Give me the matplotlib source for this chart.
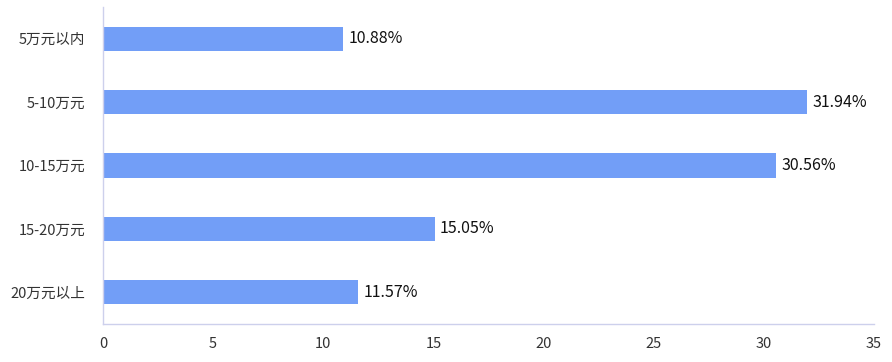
import matplotlib
matplotlib.use("Agg")
import matplotlib.pyplot as plt

plt.rcParams['font.family'] = ['Noto Sans CJK SC', 'DejaVu Sans']

categories = ["5万元以内", "5-10万元", "10-15万元", "15-20万元", "20万元以上"]
values = [10.88, 31.94, 30.56, 15.05, 11.57]
xticks = [0, 5, 10, 15, 20, 25, 30, 35]

BAR_COLOR = "#729ef7"
AXIS_COLOR = "#cdd0ec"

fig = plt.figure(figsize=(8.92, 3.62), dpi=100)
ax = fig.add_axes([103 / 892, 1 - 324 / 362, 771 / 892, 317 / 362])

ypos = list(range(len(categories)))[::-1]
ax.barh(ypos, values, height=0.38, color=BAR_COLOR)

for y, v in zip(ypos, values):
    ax.text(v + 0.25, y, f"{v:.2f}%", va="center", ha="left", fontsize=11.5, color="#111111")

ax.set_xlim(0, 35)
ax.set_ylim(-0.5, len(categories) - 0.5)
ax.set_xticks(xticks)
ax.set_yticks(ypos)
ax.set_yticklabels(categories)
ax.tick_params(axis="both", length=0, labelsize=10.5, labelcolor="#333333")
ax.tick_params(axis="x", pad=9)
ax.tick_params(axis="y", pad=12.5)

for side in ["top", "right"]:
    ax.spines[side].set_visible(False)
for side in ["left", "bottom"]:
    ax.spines[side].set_color(AXIS_COLOR)
    ax.spines[side].set_linewidth(1)

fig.savefig("out.png", dpi=100)
